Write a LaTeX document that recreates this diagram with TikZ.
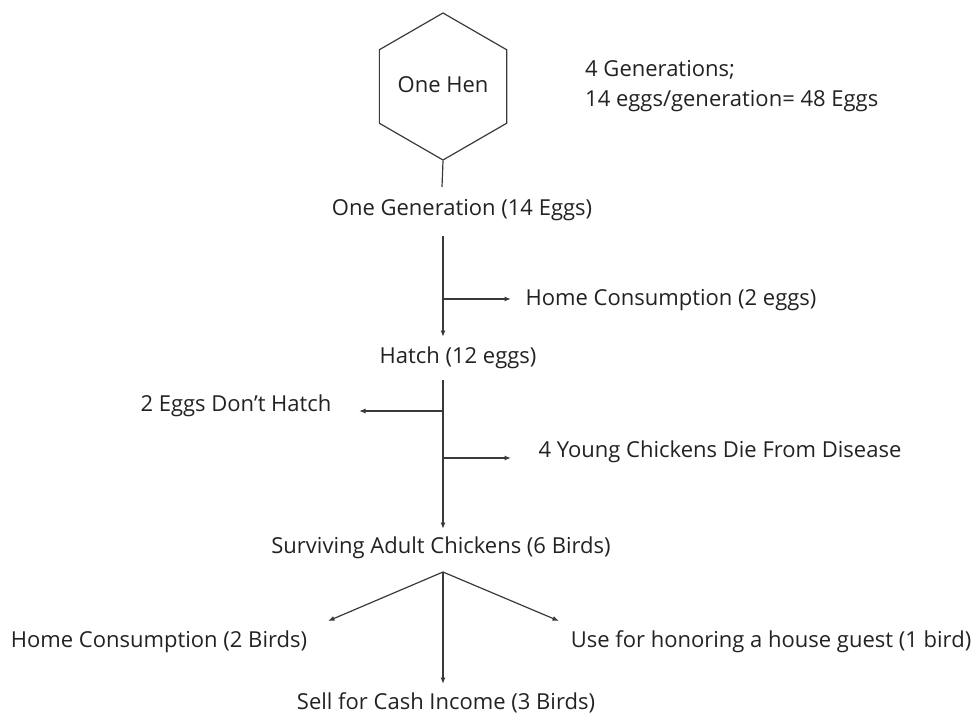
\documentclass[tikz,border=0pt]{standalone}
\usepackage{fontspec}
\setmainfont{Open Sans}
\usetikzlibrary{arrows.meta,shapes.geometric}
\definecolor{ink}{HTML}{222222}
\definecolor{wire}{HTML}{3A3A3A}
\begin{document}
\begin{tikzpicture}[x=1pt,y=-1pt,
  lbl/.style={inner sep=0pt,text=ink,font=\fontsize{22}{30}\selectfont},
  flow/.style={draw=wire,line width=1.2pt,-{Latex[length=6.5pt,width=5pt]}},
  plain/.style={draw=wire,line width=1.2pt}]
\useasboundingbox (0,0) rectangle (974,717);

% the hen
\node[draw=wire,line width=1.2pt,regular polygon,regular polygon sides=6,
      shape border rotate=30,minimum size=147pt,inner sep=0pt] (hen) at (443,86.5) {};
\node[lbl] (henlbl) at (443,85) {One Hen};

\node[lbl,anchor=west,align=left] (note) at (585,86)
  {4 Generations;\\14 eggs/generation= 48 Eggs};

% egg stage
\node[lbl] (gen) at (462,210) {One Generation (14 Eggs)};
\coordinate (genbot) at (442,187);
\draw[plain] (hen.south) -- (genbot);

\coordinate (g1) at (443,236);
\coordinate (g2) at (443,299);
\node[lbl] (hatch) at (458,358) {Hatch (12 eggs)};
\coordinate (hatchtop) at (443,337);
\draw[flow] (g1) -- (hatchtop);
\node[lbl] (homeegg) at (671,300) {Home Consumption (2 eggs)};
\coordinate (homeeggend) at (511,299);
\draw[flow] (g2) -- (homeeggend);

% hatching losses
\coordinate (h1) at (443,380);
\coordinate (h2) at (443,411);
\coordinate (h3) at (443,458);
\node[lbl] (surv) at (441,548) {Surviving Adult Chickens (6 Birds)};
\coordinate (survtop) at (443,529);
\draw[flow] (h1) -- (survtop);
\node[lbl] (nohatch) at (236,406) {2 Eggs Don't Hatch};
\coordinate (nohatchend) at (359,411);
\draw[flow] (h2) -- (nohatchend);
\node[lbl] (die) at (720,452) {4 Young Chickens Die From Disease};
\coordinate (dieend) at (511,458);
\draw[flow] (h3) -- (dieend);

% use of the birds
\coordinate (apex) at (443,572);
\node[lbl] (homebird) at (159,642) {Home Consumption (2 Birds)};
\node[lbl] (guest) at (771,642) {Use for honoring a house guest (1 bird)};
\node[lbl] (sell) at (446,703) {Sell for Cash Income (3 Birds)};
\coordinate (homebirdend) at (328,621);
\coordinate (guestend) at (559,621);
\coordinate (sellend) at (443,684);
\draw[flow] (apex) -- (homebirdend);
\draw[flow] (apex) -- (guestend);
\draw[flow] (apex) -- (sellend);
\end{tikzpicture}
\end{document}
